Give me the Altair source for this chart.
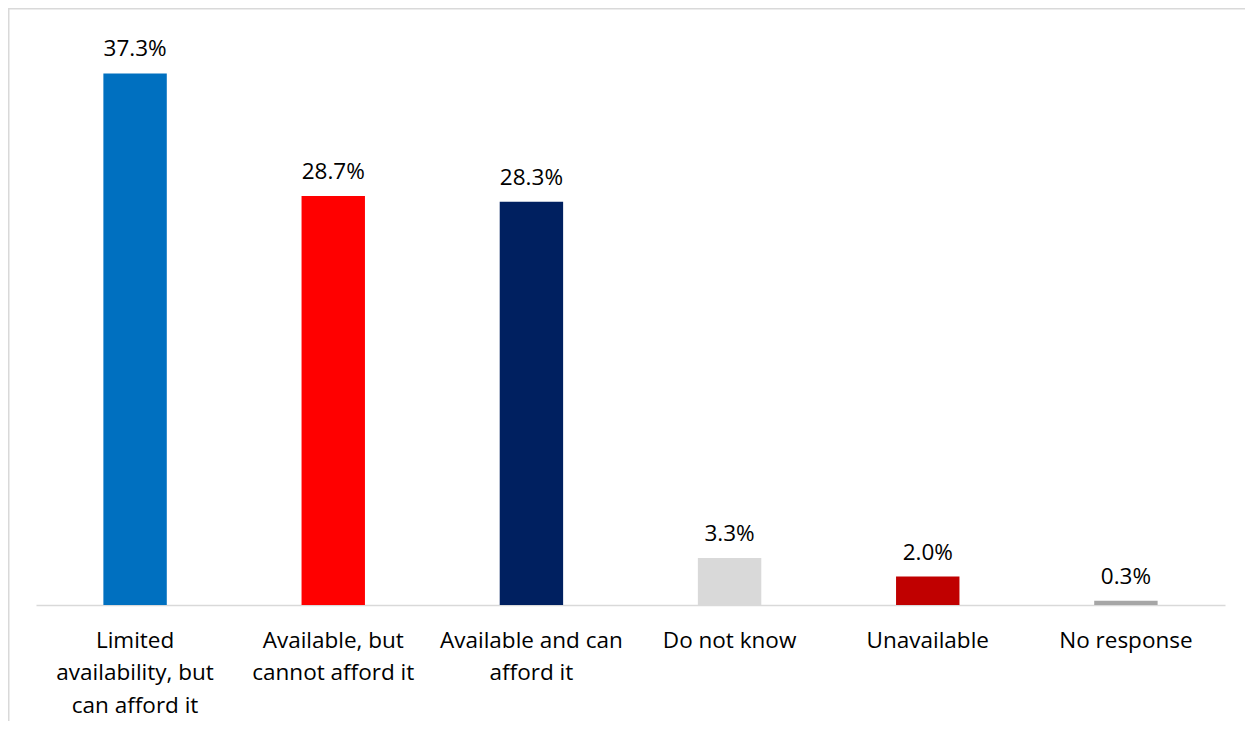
import altair as alt
import pandas as pd

categories = [
    "Limited\navailability, but\ncan afford it",
    "Available, but\ncannot afford it",
    "Available and can\nafford it",
    "Do not know",
    "Unavailable",
    "No response",
]
values = [37.3, 28.7, 28.3, 3.3, 2.0, 0.3]
colors = ["#0070C0", "#FF0000", "#002060", "#D9D9D9", "#C00000", "#A6A6A6"]

df = pd.DataFrame({"cat": categories, "val": values, "color": colors})
df["label"] = df["val"].map(lambda v: f"{v:.1f}%")

FONT = "Open Sans"
FS = 22.5
W, H = 1189, 570
PAD_L, PAD_T = 28, 27

x = alt.X(
    "cat:N",
    sort=categories,
    title=None,
    scale=alt.Scale(paddingInner=0.68, paddingOuter=0.34),
    axis=alt.Axis(
        labelExpr="split(datum.label, '\\n')",
        labelAngle=0,
        labelFont=FONT,
        labelFontSize=FS,
        labelColor="#000000",
        labelLineHeight=32.5,
        labelPadding=24,
        labelBaseline="top",
        labelLimit=300,
        ticks=False,
        domainColor="#D9D9D9",
        domainWidth=1.5,
        grid=False,
    ),
)
y = alt.Y(
    "val:Q",
    scale=alt.Scale(domain=[0, 40], nice=False),
    axis=None,
)

base = alt.Chart(df)

bars = base.mark_bar().encode(
    x=x,
    y=y,
    color=alt.Color("color:N", scale=None),
)

texts = base.mark_text(
    font=FONT, fontSize=FS, color="#000000", baseline="alphabetic", dy=-17
).encode(x=x, y=y, text="label:N")

border = alt.Chart(pd.DataFrame({"k": [0]})).mark_rect(
    fill=None, stroke="#D9D9D9", strokeWidth=1.5
).encode(
    x=alt.value(-PAD_L + 0.75),
    x2=alt.value(W + 80),
    y=alt.value(-PAD_T + 0.75),
    y2=alt.value(H + 200),
)

chart = (
    alt.layer(border, bars, texts)
    .properties(
        width=W,
        height=H,
        background="#FFFFFF",
        autosize=alt.AutoSizeParams(type="none"),
        padding={"left": PAD_L, "top": PAD_T, "right": 20, "bottom": 116},
    )
    .configure_view(strokeWidth=0, stroke=None)
)

chart.save("out.html", embed_options={"renderer": "svg", "actions": False})
